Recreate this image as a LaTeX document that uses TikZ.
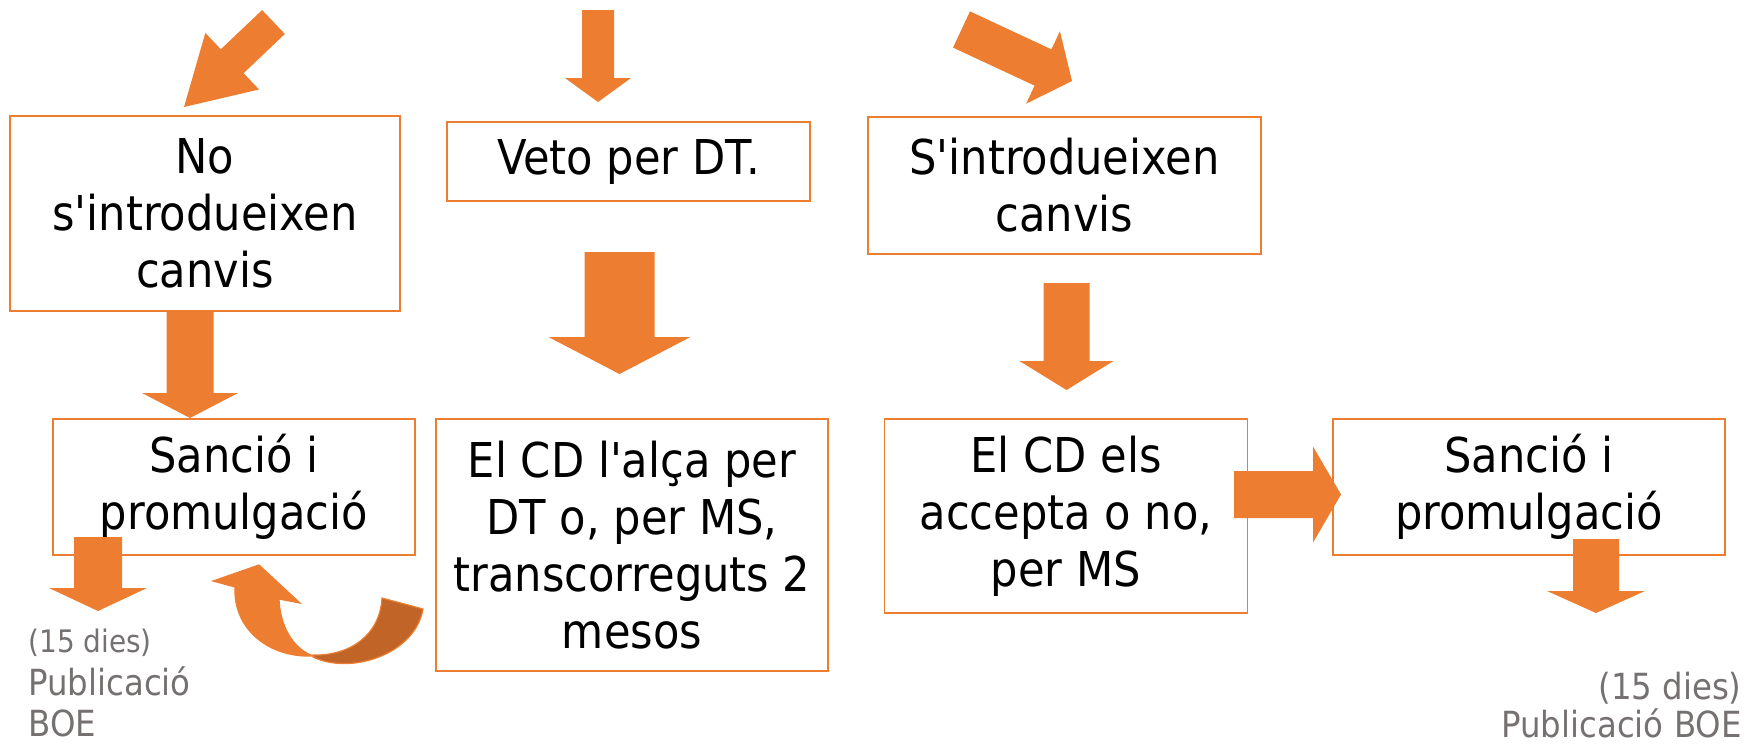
\documentclass[tikz,border=0pt]{standalone}
\usepackage{fontspec}
\setmainfont{DejaVu Sans Condensed}[Ligatures=TeXOff]
\usetikzlibrary{calc}
\pgfdeclarelayer{bg}
\pgfsetlayers{bg,main}
\definecolor{accent}{RGB}{237,125,49}
\definecolor{accentdark}{RGB}{192,100,40}
\definecolor{graytxt}{RGB}{118,113,113}
\tikzset{
  box/.style={draw=accent, line width=0.8pt, inner sep=0pt, align=center,
    font=\fontsize{24}{28.5}\selectfont},
  graylbl/.style={text=graytxt, inner sep=0pt, font=\fontsize{18}{22}\selectfont},
  graysmall/.style={text=graytxt, inner sep=0pt, font=\fontsize{15.5}{18}\selectfont},
  arrowfill/.style={fill=accent},
}
% #1 start, #2 end, #3 half shaft width, #4 half head width, #5 head length
\newcommand{\fatarr}[5]{%
  \coordinate (fa-s) at (#1);
  \coordinate (fa-e) at (#2);
  \coordinate (fa-h) at ($(fa-e)!#5!(fa-s)$);
  \fill[arrowfill] ($(fa-s)!#3!90:(fa-e)$) -- ($(fa-h)!#3!-90:(fa-s)$)
    -- ($(fa-h)!#4!-90:(fa-s)$) -- (fa-e) -- ($(fa-h)!#4!90:(fa-s)$)
    -- ($(fa-h)!#3!90:(fa-s)$) -- ($(fa-s)!#3!-90:(fa-e)$) -- cycle;}
\begin{document}
\begin{tikzpicture}[x=0.5pt,y=-0.5pt]
\useasboundingbox (0,0) rectangle (1759,744);
% boxes
\node[box, minimum width=195pt, minimum height=97.5pt] (b1) at (205,213.5) {No\\s'introdueixen\\canvis};
\node[box, minimum width=181.5pt, minimum height=39.5pt] (b2) at (628.5,161.5) {Veto per DT.};
\node[box, minimum width=196.5pt, minimum height=68.5pt] (b3) at (1064.5,185.5) {S'introdueixen\\canvis};
\node[box, minimum width=181pt, minimum height=68pt] (b4) at (234,487) {Sanció i\\promulgació};
\node[box, minimum width=196pt, minimum height=126pt] (b5) at (632,545) {El CD l'alça per\\DT o, per MS,\\transcorreguts 2\\mesos};
\node[box, minimum width=181.5pt, minimum height=97pt] (b6) at (1066,516) {El CD els\\accepta o no,\\per MS};
\node[box, minimum width=196pt, minimum height=68pt] (b7) at (1529,487) {Sanció i\\promulgació};
% gray labels
\node[graysmall, anchor=base west] (l1) at (28,652) {(15 dies)};
\node[graylbl, anchor=base west] (l2) at (28,695) {Publicació};
\node[graylbl, anchor=base west] (l3) at (28,736) {BOE};
\node[graylbl, anchor=base east] (r1) at (1742,699) {(15 dies)};
\node[graylbl, anchor=base east] (r2) at (1742,737) {Publicació BOE};
% block arrows
\begin{pgfonlayer}{bg}
\coordinate (hS) at (1234,494.5); \coordinate (hE) at (1341,494.5);
\fatarr{hS}{hE}{11.75pt}{24pt}{14pt}
\end{pgfonlayer}
\coordinate (aS) at (273.5,22); \coordinate (aE) at (184,107);
\fatarr{aS}{aE}{8.25pt}{19.5pt}{33.25pt}
\coordinate (bS) at (598,10); \coordinate (bE) at (598,102);
\fatarr{bS}{bE}{8pt}{16.5pt}{12pt}
\coordinate (cS) at (961.5,29.5); \coordinate (cE) at (1072,81);
\fatarr{cS}{cE}{10pt}{20pt}{16pt}
\coordinate (dS) at (619.5,252); \coordinate (dE) at (619.5,374);
\fatarr{dS}{dE}{17.5pt}{35.5pt}{18.5pt}
\coordinate (eS) at (1066.5,283); \coordinate (eE) at (1066.5,390);
\fatarr{eS}{eE}{11.5pt}{23.5pt}{14.5pt}
\coordinate (fS) at (190,312); \coordinate (fE) at (190,418);
\fatarr{fS}{fE}{11.75pt}{24pt}{12.5pt}
\coordinate (gS) at (98,537); \coordinate (gE) at (98,611);
\fatarr{gS}{gE}{12pt}{24.5pt}{11.5pt}
\coordinate (iS) at (1596,539); \coordinate (iE) at (1596,613);
\fatarr{iS}{iE}{11.5pt}{24.5pt}{11pt}
% curved arrow (twisted ribbon)
\filldraw[fill=accentdark, draw=accent, line width=0.6pt]
  (313,655) .. controls (350,656) and (380,635) .. (382,598)
  -- (423,609) .. controls (415,655) and (350,675) .. (313,657) -- cycle;
\filldraw[fill=accent, draw=accent, line width=0.6pt]
  (235,587) -- (213,581) -- (259,565) -- (300,603) -- (279,599)
  .. controls (280,625) and (292,648) .. (313,656)
  .. controls (270,658) and (233,630) .. (235,587) -- cycle;
\end{tikzpicture}
\end{document}
